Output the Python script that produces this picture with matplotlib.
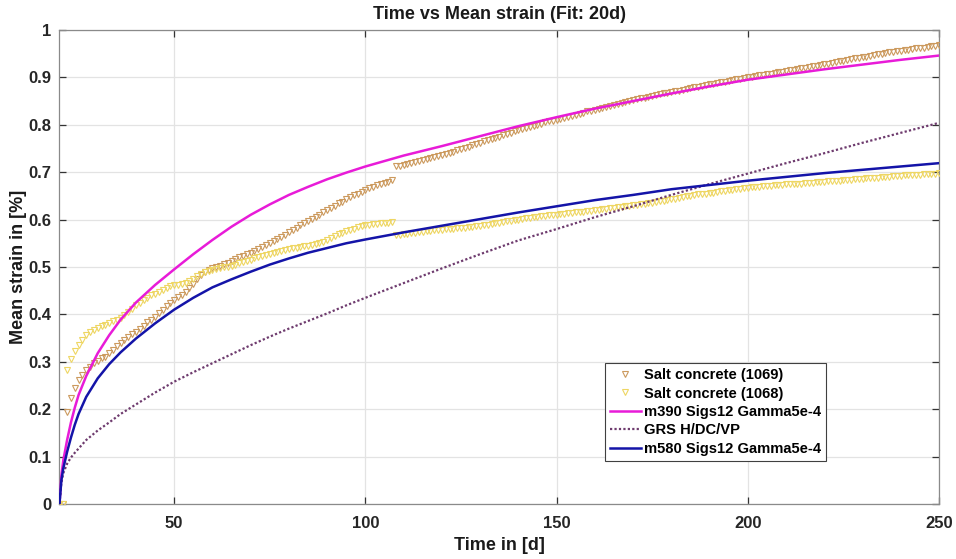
import numpy as np
import matplotlib
matplotlib.use("Agg")
import matplotlib.pyplot as plt

plt.rcParams['font.family'] = ['Liberation Sans', 'DejaVu Sans']
plt.rcParams['font.weight'] = 'bold'

# ---------------- data ----------------
time_days = np.arange(20, 251)  # measured days (1-day spacing)

strain_1069 = [
    0.000, 0.000, 0.195, 0.224, 0.245, 0.262, 0.273, 0.283, 0.290, 0.297,
    0.302, 0.307, 0.311, 0.318, 0.325, 0.333, 0.340, 0.346, 0.352, 0.358,
    0.363, 0.369, 0.376, 0.383, 0.389, 0.395, 0.402, 0.410, 0.418, 0.424,
    0.430, 0.436, 0.441, 0.447, 0.455, 0.465, 0.475, 0.483, 0.489, 0.494,
    0.497, 0.500, 0.503, 0.506, 0.509, 0.512, 0.516, 0.520, 0.523, 0.527,
    0.530, 0.534, 0.538, 0.542, 0.546, 0.550, 0.555, 0.559, 0.564, 0.568,
    0.573, 0.578, 0.583, 0.588, 0.593, 0.597, 0.601, 0.606, 0.610, 0.615,
    0.620, 0.625, 0.629, 0.634, 0.638, 0.643, 0.647, 0.651, 0.655, 0.659,
    0.663, 0.666, 0.669, 0.672, 0.674, 0.677, 0.680, 0.683, 0.712, 0.714,
    0.716, 0.718, 0.720, 0.722, 0.724, 0.726, 0.728, 0.730, 0.732, 0.734,
    0.737, 0.739, 0.741, 0.743, 0.746, 0.748, 0.751, 0.754, 0.757, 0.759,
    0.762, 0.765, 0.768, 0.770, 0.773, 0.775, 0.778, 0.781, 0.783, 0.786,
    0.788, 0.791, 0.793, 0.796, 0.798, 0.800, 0.802, 0.805, 0.807, 0.808,
    0.810, 0.812, 0.814, 0.816, 0.818, 0.820, 0.823, 0.825, 0.828, 0.830,
    0.832, 0.834, 0.836, 0.838, 0.840, 0.842, 0.844, 0.846, 0.848, 0.850,
    0.852, 0.854, 0.856, 0.857, 0.859, 0.861, 0.862, 0.864, 0.866, 0.867,
    0.869, 0.871, 0.872, 0.874, 0.875, 0.877, 0.879, 0.880, 0.882, 0.883,
    0.885, 0.887, 0.888, 0.890, 0.891, 0.893, 0.894, 0.896, 0.897, 0.899,
    0.900, 0.901, 0.903, 0.904, 0.906, 0.907, 0.908, 0.910, 0.911, 0.912,
    0.913, 0.915, 0.916, 0.918, 0.919, 0.920, 0.922, 0.923, 0.925, 0.926,
    0.928, 0.929, 0.931, 0.932, 0.934, 0.935, 0.937, 0.938, 0.940, 0.941,
    0.943, 0.944, 0.946, 0.947, 0.949, 0.950, 0.951, 0.953, 0.954, 0.955,
    0.956, 0.957, 0.958, 0.960, 0.961, 0.962, 0.963, 0.964, 0.966, 0.967,
    0.968,
]

strain_1068 = [
    0.000, 0.000, 0.283, 0.305, 0.322, 0.335, 0.347, 0.356, 0.363, 0.368,
    0.372, 0.375, 0.378, 0.381, 0.385, 0.388, 0.392, 0.398, 0.405, 0.412,
    0.419, 0.425, 0.430, 0.435, 0.440, 0.444, 0.448, 0.452, 0.456, 0.459,
    0.461, 0.463, 0.465, 0.467, 0.471, 0.475, 0.480, 0.485, 0.489, 0.492,
    0.494, 0.496, 0.497, 0.499, 0.501, 0.503, 0.505, 0.508, 0.510, 0.513,
    0.515, 0.518, 0.520, 0.523, 0.526, 0.528, 0.530, 0.532, 0.534, 0.536,
    0.537, 0.539, 0.540, 0.542, 0.544, 0.545, 0.547, 0.548, 0.550, 0.553,
    0.557, 0.561, 0.565, 0.569, 0.572, 0.575, 0.578, 0.581, 0.584, 0.586,
    0.588, 0.589, 0.590, 0.591, 0.592, 0.592, 0.593, 0.594, 0.567, 0.568,
    0.569, 0.570, 0.571, 0.572, 0.573, 0.574, 0.575, 0.576, 0.577, 0.578,
    0.579, 0.580, 0.580, 0.581, 0.582, 0.582, 0.583, 0.584, 0.585, 0.586,
    0.587, 0.588, 0.589, 0.590, 0.592, 0.593, 0.594, 0.596, 0.597, 0.599,
    0.600, 0.601, 0.603, 0.604, 0.605, 0.606, 0.607, 0.608, 0.609, 0.610,
    0.610, 0.611, 0.612, 0.613, 0.614, 0.615, 0.616, 0.617, 0.618, 0.619,
    0.620, 0.621, 0.622, 0.623, 0.624, 0.625, 0.626, 0.627, 0.628, 0.629,
    0.630, 0.631, 0.632, 0.633, 0.634, 0.636, 0.637, 0.639, 0.640, 0.642,
    0.643, 0.644, 0.646, 0.647, 0.649, 0.650, 0.651, 0.653, 0.654, 0.655,
    0.656, 0.657, 0.659, 0.660, 0.661, 0.662, 0.663, 0.664, 0.665, 0.666,
    0.667, 0.668, 0.668, 0.669, 0.670, 0.671, 0.671, 0.672, 0.673, 0.673,
    0.674, 0.675, 0.675, 0.676, 0.676, 0.677, 0.678, 0.678, 0.679, 0.679,
    0.680, 0.681, 0.681, 0.682, 0.682, 0.683, 0.684, 0.684, 0.685, 0.685,
    0.686, 0.687, 0.687, 0.688, 0.688, 0.689, 0.690, 0.690, 0.691, 0.691,
    0.692, 0.693, 0.693, 0.694, 0.694, 0.695, 0.696, 0.696, 0.697, 0.697,
    0.698,
]

model_time = [20, 20.5, 21, 22, 23, 24, 25, 27, 30, 33, 36, 40, 45, 50, 55, 60,
              65, 70, 75, 80, 85, 90, 95, 100, 110, 120, 130, 140, 150, 160,
              170, 180, 190, 200, 210, 220, 230, 240, 250]

model_m390 = [0.000, 0.060, 0.092, 0.135, 0.172, 0.203, 0.230, 0.270, 0.318,
              0.356, 0.389, 0.425, 0.462, 0.495, 0.527, 0.557, 0.585, 0.610,
              0.632, 0.652, 0.669, 0.685, 0.699, 0.712, 0.735, 0.755, 0.776,
              0.797, 0.816, 0.834, 0.850, 0.866, 0.881, 0.895, 0.906, 0.917,
              0.927, 0.937, 0.946]

model_grs = [0.000, 0.045, 0.065, 0.085, 0.098, 0.108, 0.117, 0.135, 0.155,
             0.172, 0.190, 0.210, 0.235, 0.258, 0.278, 0.297, 0.316, 0.335,
             0.353, 0.370, 0.386, 0.402, 0.419, 0.435, 0.466, 0.497, 0.527,
             0.556, 0.580, 0.605, 0.628, 0.652, 0.675, 0.697, 0.719, 0.740,
             0.762, 0.783, 0.804]

model_m580 = [0.000, 0.050, 0.075, 0.110, 0.140, 0.167, 0.190, 0.226, 0.265,
              0.295, 0.320, 0.349, 0.381, 0.410, 0.435, 0.457, 0.474, 0.490,
              0.505, 0.518, 0.530, 0.540, 0.550, 0.558, 0.573, 0.587, 0.601,
              0.615, 0.628, 0.641, 0.652, 0.664, 0.673, 0.682, 0.690, 0.698,
              0.705, 0.712, 0.719]

labels = ["Salt concrete (1069)", "Salt concrete (1068)",
          "m390 Sigs12 Gamma5e-4", "GRS H/DC/VP", "m580 Sigs12 Gamma5e-4"]

x_ticks = [50, 100, 150, 200, 250]
y_ticks = [0, 0.1, 0.2, 0.3, 0.4, 0.5, 0.6, 0.7, 0.8, 0.9, 1]
y_ticklabels = ["0", "0.1", "0.2", "0.3", "0.4", "0.5", "0.6", "0.7", "0.8", "0.9", "1"]

# ---------------- figure ----------------
fig = plt.figure(figsize=(9.56, 5.59), dpi=100)
ax = fig.add_axes([0.0622, 0.0984, 0.92, 0.848])

c_1069 = '#CC9A5E'
c_1068 = '#EED663'
c_m390 = '#E81BD8'
c_grs = '#6E3B6E'
c_m580 = '#1414A8'

ax.plot(time_days, strain_1069, linestyle='none', marker='v', markersize=4.8,
        markerfacecolor='none', markeredgecolor=c_1069, markeredgewidth=0.8,
        label=labels[0], zorder=3)
ax.plot(time_days, strain_1068, linestyle='none', marker='v', markersize=4.8,
        markerfacecolor='none', markeredgecolor=c_1068, markeredgewidth=0.8,
        label=labels[1], zorder=3)
ax.plot(model_time, model_m390, color=c_m390, linewidth=1.8, label=labels[2], zorder=4)
ax.plot(model_time, model_grs, color=c_grs, linewidth=1.6, linestyle=(0, (1, 1)),
        label=labels[3], zorder=4)
ax.plot(model_time, model_m580, color=c_m580, linewidth=1.8, label=labels[4], zorder=4)

ax.set_xlim(20, 250)
ax.set_ylim(0, 1)
ax.set_xticks(x_ticks)
ax.set_xticklabels([str(v) for v in x_ticks])
ax.set_yticks(y_ticks)
ax.set_yticklabels(y_ticklabels)

ax.grid(True, color='#E3E3E3', linewidth=0.9)
ax.set_axisbelow(True)
for s in ax.spines.values():
    s.set_color('#8A8A8A')
    s.set_linewidth(0.9)
ax.tick_params(direction='in', top=True, right=True, length=5, width=0.9,
               color='#333333', labelsize=12, labelcolor='#262626')
ax.tick_params(axis='x', pad=9)
ax.tick_params(axis='y', pad=6)
for lab in ax.get_xticklabels() + ax.get_yticklabels():
    lab.set_fontweight('bold')

ax.set_title("Time vs Mean strain (Fit: 20d)", fontsize=13, fontweight='bold',
             color='#1a1a1a', pad=8)
ax.set_xlabel("Time in [d]", fontsize=13, fontweight='bold', color='#1a1a1a', labelpad=4)
ax.set_ylabel("Mean strain in [%]", fontsize=13, fontweight='bold', color='#1a1a1a', labelpad=1)

leg = ax.legend(loc='lower left', bbox_to_anchor=(0.620, 0.0907), borderaxespad=0,
                handlelength=2.1, handletextpad=0.2, labelspacing=0.3,
                borderpad=0.35, fancybox=False, framealpha=1, numpoints=1,
                prop={'weight': 'bold', 'size': 10.65})
leg.get_frame().set_edgecolor('#404040')
leg.get_frame().set_linewidth(0.8)

fig.savefig("out.png", dpi=100, facecolor='white')
